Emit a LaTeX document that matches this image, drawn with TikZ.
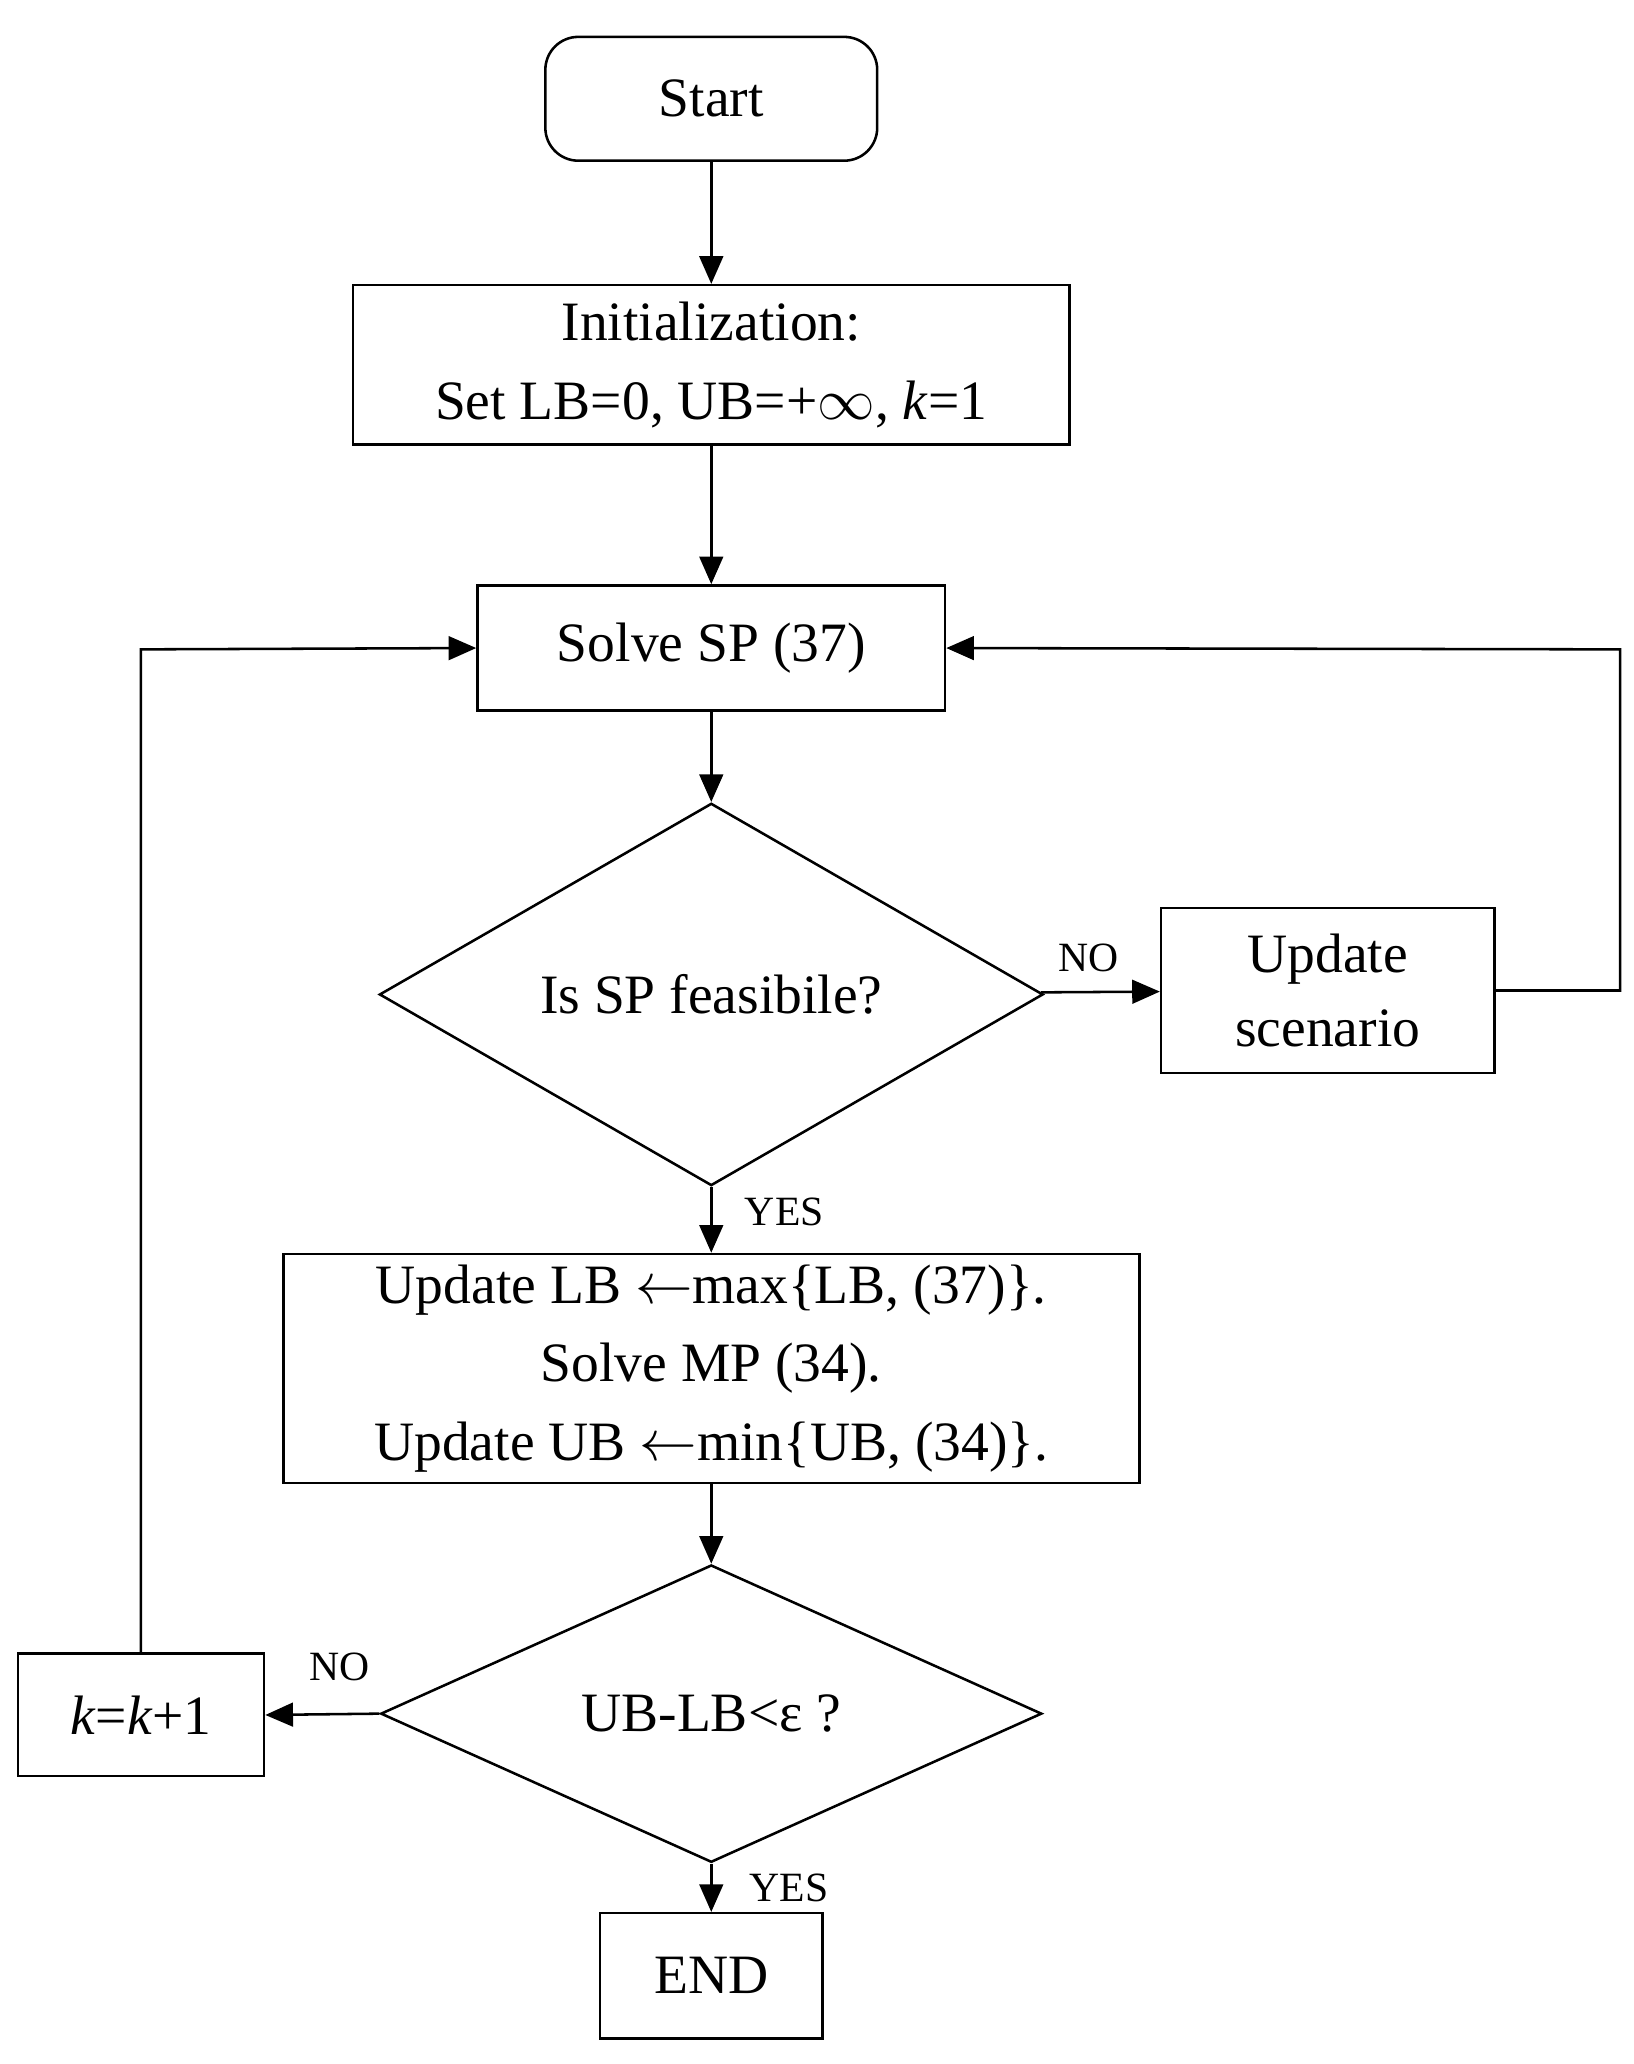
\documentclass[tikz,border=0pt]{standalone}
\usepackage{fontspec}
\setmainfont{Liberation Serif}
\usetikzlibrary{shapes.geometric,arrows.meta}
\begin{document}
\begin{tikzpicture}[x=0.02cm,y=-0.02cm,
  every node/.style={inner sep=0pt,font=\fontsize{24}{30}\selectfont},
  box/.style={draw,line width=1.1pt,align=center},
  dia/.style={draw,line width=1.1pt,diamond,align=center},
  lab/.style={font=\fontsize{18}{22}\selectfont},
  arr/.style={line width=1.1pt,-{Triangle[length=0.42cm,width=0.36cm]}}]
\useasboundingbox (0,0) rectangle (1240,1567);
\node[box,rounded corners=0.5cm,minimum width=5.04cm,minimum height=1.88cm] (start) at (540,75) {Start};
\node[box,minimum width=10.88cm,minimum height=2.42cm] (init) at (540,277) {Initialization:\\[4pt]Set LB=0, UB=+$\infty$, \textit{k}=1};
\node[box,minimum width=7.1cm,minimum height=1.9cm] (sp) at (540,492) {Solve SP (37)};
\node[dia,minimum width=10.08cm,minimum height=3.94cm] (d1) at (540,755) {Is SP feasibile?};
\node[box,minimum width=5.06cm,minimum height=2.5cm] (us) at (1008,752) {Update\\[2pt]scenario};
\node[box,minimum width=13cm,minimum height=3.48cm] (up) at (540,1039) {Update LB $\leftarrow$max\{LB, (37)\}.\\[4pt]Solve MP (34).\\[4pt]Update UB $\leftarrow$min\{UB, (34)\}.};
\node[dia,minimum width=10.04cm,minimum height=2.44cm] (d2) at (540,1301) {UB-LB<ε ?};
\node[box,minimum width=3.74cm,minimum height=1.86cm] (kk) at (107,1302) {\textit{k}=\textit{k}+1};
\node[box,minimum width=3.38cm,minimum height=1.9cm] (end) at (540,1500) {END};
\coordinate (r1) at (1230,752);
\coordinate (r2) at (1230,493);
\coordinate (l1) at (107,493);
\draw[arr] (start) -- (init);
\draw[arr] (init) -- (sp);
\draw[arr] (sp) -- (d1);
\draw[arr] (d1) -- node[lab,above=8pt,pos=0.4]{NO} (us);
\draw[arr] (us.east) -- (r1) -- (r2) -- (sp.east);
\draw[arr] (d1) -- node[lab,right=14pt,pos=0.38]{YES} (up);
\draw[arr] (up) -- (d2);
\draw[arr] (d2.west) -- node[lab,above=14pt,pos=0.35]{NO} (kk.east);
\draw[arr] (kk.north) -- (l1) -- (sp.west);
\draw[arr] (d2) -- node[lab,right=16pt,pos=0.5]{YES} (end);
\end{tikzpicture}
\end{document}
